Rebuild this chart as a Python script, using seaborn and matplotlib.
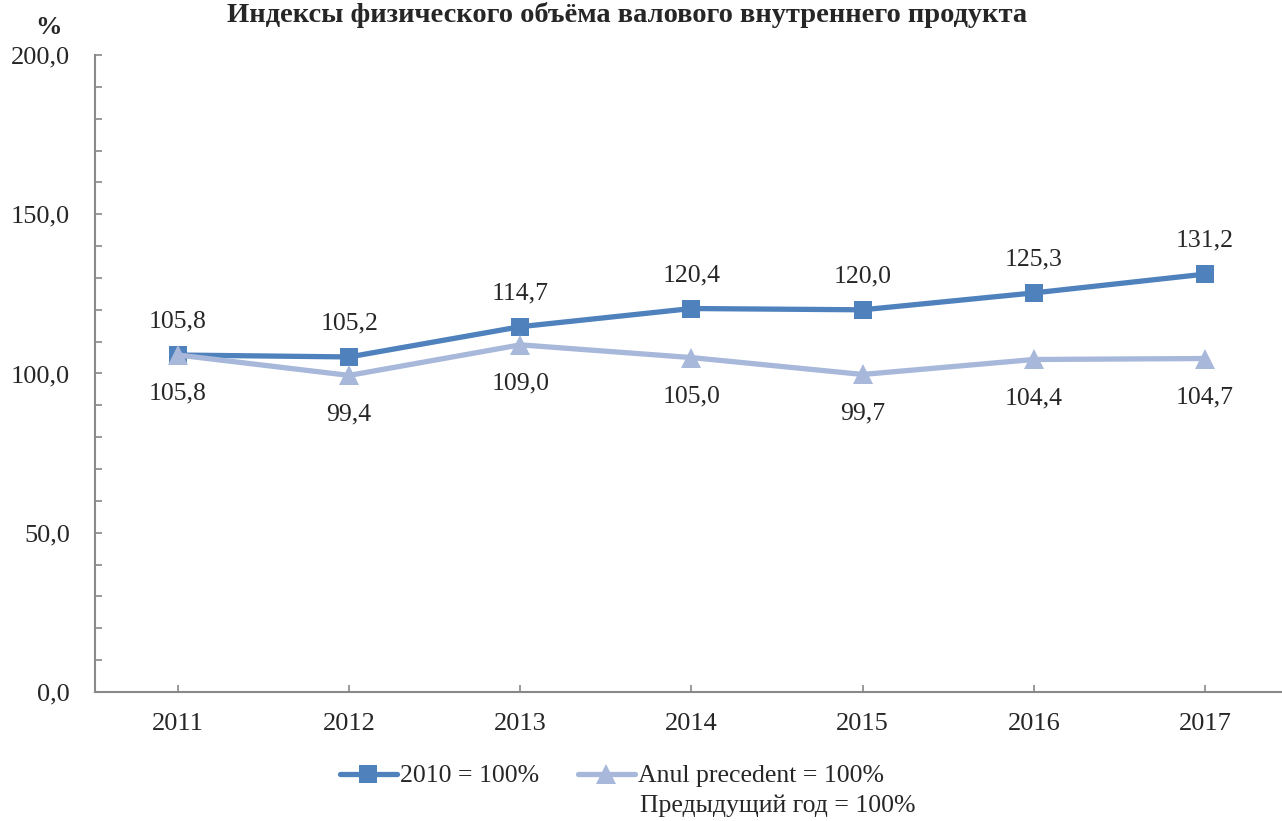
import matplotlib
matplotlib.use('Agg')
import matplotlib.pyplot as plt
from matplotlib.ticker import MultipleLocator, FuncFormatter
from matplotlib.lines import Line2D
import seaborn as sns
import pandas as pd

YEARS = [2011, 2012, 2013, 2014, 2015, 2016, 2017]
BASE_2010 = [105.8, 105.2, 114.7, 120.4, 120.0, 125.3, 131.2]
PREV_YEAR = [105.8, 99.4, 109.0, 105.0, 99.7, 104.4, 104.7]

TITLE = 'Индексы физического объёма валового внутреннего продукта'
LABEL_BASE = '2010 = 100%'
LABEL_PREV = 'Anul precedent = 100%'
LABEL_PREV_RU = 'Предыдущий год = 100%'

DARK = '#4F81BD'
LIGHT = '#A7B8DA'
AXIS = '#898989'
FS = 18.5


def comma(v, _pos=None):
    return ('%.1f' % v).replace('.', ',')


def main():
    sns.set_style('white')
    plt.rcParams['font.family'] = ['Liberation Serif', 'DejaVu Serif']
    plt.rcParams['font.size'] = FS

    df = pd.DataFrame({'year': YEARS, 'base': BASE_2010, 'prev': PREV_YEAR})

    fig = plt.figure(figsize=(12.82, 8.21), dpi=100)
    ax = fig.add_axes([95 / 1282, 129 / 821, 1187 / 1282, 637 / 821])

    sns.lineplot(data=df, x='year', y='base', ax=ax, color=DARK, lw=3.8,
                 marker='s', markersize=13, markeredgewidth=0, zorder=3)
    sns.lineplot(data=df, x='year', y='prev', ax=ax, color=LIGHT, lw=3.8,
                 marker='^', markersize=15, markeredgewidth=0, zorder=4)

    for x, y in zip(YEARS, BASE_2010):
        ax.annotate(comma(y), (x, y), xytext=(0, 24), textcoords='offset points',
                    ha='center', va='center', fontsize=FS)
    for x, y in zip(YEARS, PREV_YEAR):
        ax.annotate(comma(y), (x, y), xytext=(0, -28), textcoords='offset points',
                    ha='center', va='center', fontsize=FS)

    ax.set_xlim(YEARS[0] - 0.485, YEARS[-1] + 0.45)
    ax.set_ylim(0, 200)
    ax.set_xticks(YEARS)
    ax.set_xticklabels([str(y) for y in YEARS])
    ax.yaxis.set_major_locator(MultipleLocator(50))
    ax.yaxis.set_minor_locator(MultipleLocator(10))
    ax.yaxis.set_major_formatter(FuncFormatter(comma))
    ax.set_xlabel('')
    ax.set_ylabel('')

    for side in ['top', 'right']:
        ax.spines[side].set_visible(False)
    for side in ['left', 'bottom']:
        ax.spines[side].set_color(AXIS)
        ax.spines[side].set_linewidth(1.5)
    ax.tick_params(axis='both', which='both', direction='in', color=AXIS,
                   width=1.2, length=5, labelsize=19)
    ax.tick_params(axis='y', which='both', left=True, pad=18)
    ax.tick_params(axis='x', which='both', bottom=True, pad=15)

    # title sits right at the top edge, as in the source
    fig.text(627 / 1282, 1 - 2 / 821, TITLE, ha='center', va='top',
             fontsize=20.5, fontweight='bold')
    fig.text(48 / 1282, 1 - 28 / 821, '%', ha='center', va='center',
             fontsize=19, fontweight='bold')

    handles = [
        Line2D([], [], color=DARK, lw=3.8, marker='s', markersize=13, markeredgewidth=0),
        Line2D([], [], color=LIGHT, lw=3.8, marker='^', markersize=15, markeredgewidth=0),
    ]
    fig.legend(handles, [LABEL_BASE, LABEL_PREV], loc='center left',
               bbox_to_anchor=(340 / 1282, 1 - 776 / 821), ncol=2, frameon=False,
               fontsize=FS, handlelength=2.2, handletextpad=0.15, columnspacing=1.5,
               borderpad=0, borderaxespad=0)
    fig.text(640 / 1282, 1 - 806 / 821, LABEL_PREV_RU, ha='left', va='center',
             fontsize=FS)

    fig.savefig('out.png', dpi=100)


if __name__ == '__main__':
    main()
